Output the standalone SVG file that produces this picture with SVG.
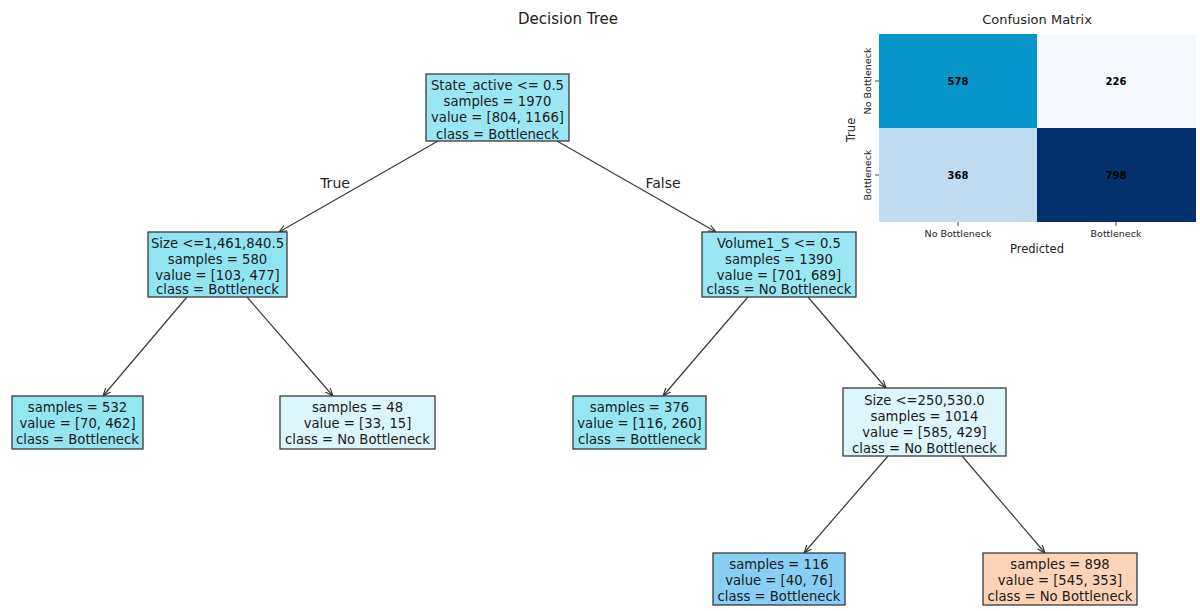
<svg xmlns="http://www.w3.org/2000/svg" width="1200" height="611" viewBox="0 0 1200 611">
<defs>
<marker id="arr" viewBox="0 0 10 10" refX="10" refY="5" markerWidth="8" markerHeight="8" orient="auto-start-reverse" markerUnits="userSpaceOnUse">
<path d="M0,1 L10,5 L0,9" fill="none" stroke="#333" stroke-width="1.4"/>
</marker>
<style>
.box{stroke:#3a3a3a;stroke-width:1.3}
.t{font-family:"DejaVu Sans",sans-serif;font-size:13.2px;fill:#1a1a1a;text-anchor:middle}
.e{stroke:#3a3a3a;stroke-width:1.2;fill:none;marker-end:url(#arr)}
.lab{font-family:"DejaVu Sans",sans-serif;font-size:14px;fill:#222;text-anchor:middle}
.cm{font-family:"DejaVu Sans",sans-serif;font-size:10px;font-weight:bold;text-anchor:middle;fill:#000}
.ax{font-family:"DejaVu Sans",sans-serif;font-size:9.5px;fill:#222;text-anchor:middle}
.axl{font-family:"DejaVu Sans",sans-serif;font-size:11.5px;fill:#222;text-anchor:middle}
.tk{stroke:#444;stroke-width:1}
</style>
</defs>
<rect width="1200" height="611" fill="#fff"/>
<text class="lab" x="568" y="24" style="font-size:15px">Decision Tree</text>

<g id="connectors">
<line class="e" x1="438" y1="141" x2="279" y2="232"/>
<line class="e" x1="557" y1="141" x2="716" y2="232"/>
<line class="e" x1="187" y1="297" x2="103" y2="396"/>
<line class="e" x1="247" y1="297" x2="333" y2="396"/>
<line class="e" x1="748" y1="297" x2="663" y2="396"/>
<line class="e" x1="808" y1="297" x2="886" y2="388"/>
<line class="e" x1="888" y1="456" x2="804" y2="553"/>
<line class="e" x1="962" y1="456" x2="1045" y2="553"/>
<text class="lab" x="335" y="188">True</text>
<text class="lab" x="663" y="188">False</text>
</g>

<g id="root">
<rect class="box" x="426" y="74" width="143" height="67" fill="#9ae7f3"/>
<text class="t" x="497.5" y="90">State_active &lt;= 0.5</text>
<text class="t" x="497.5" y="106.2">samples = 1970</text>
<text class="t" x="497.5" y="122.4">value = [804, 1166]</text>
<text class="t" x="497.5" y="138.6">class = Bottleneck</text>
</g>

<g id="size1">
<rect class="box" x="148" y="232" width="139" height="65" fill="#90e3f1"/>
<text class="t" x="217.5" y="247.5">Size &lt;=1,461,840.5</text>
<text class="t" x="217.5" y="263.7">samples = 580</text>
<text class="t" x="217.5" y="279.9">value = [103, 477]</text>
<text class="t" x="217.5" y="294.1">class = Bottleneck</text>
</g>

<g id="volume">
<rect class="box" x="702" y="232" width="154" height="65" fill="#98e7f3"/>
<text class="t" x="779" y="247.5">Volume1_S &lt;= 0.5</text>
<text class="t" x="779" y="263.7">samples = 1390</text>
<text class="t" x="779" y="279.9">value = [701, 689]</text>
<text class="t" x="779" y="294.1">class = No Bottleneck</text>
</g>

<g id="leaf532">
<rect class="box" x="12" y="396" width="131" height="53" fill="#93e5f2"/>
<text class="t" x="77.5" y="411.5">samples = 532</text>
<text class="t" x="77.5" y="427.7">value = [70, 462]</text>
<text class="t" x="77.5" y="443.9">class = Bottleneck</text>
</g>

<g id="leaf48">
<rect class="box" x="280" y="396" width="155" height="53" fill="#daf6fb"/>
<text class="t" x="357.5" y="411.5">samples = 48</text>
<text class="t" x="357.5" y="427.7">value = [33, 15]</text>
<text class="t" x="357.5" y="443.9">class = No Bottleneck</text>
</g>

<g id="leaf376">
<rect class="box" x="573" y="396" width="133" height="53" fill="#95e6f2"/>
<text class="t" x="639.5" y="411.5">samples = 376</text>
<text class="t" x="639.5" y="427.7">value = [116, 260]</text>
<text class="t" x="639.5" y="443.9">class = Bottleneck</text>
</g>

<g id="size2">
<rect class="box" x="843" y="388" width="163" height="68" fill="#dcf6fb"/>
<text class="t" x="924.5" y="404.5">Size &lt;=250,530.0</text>
<text class="t" x="924.5" y="420.7">samples = 1014</text>
<text class="t" x="924.5" y="436.9">value = [585, 429]</text>
<text class="t" x="924.5" y="453.1">class = No Bottleneck</text>
</g>

<g id="leaf116">
<rect class="box" x="713" y="553" width="132" height="52" fill="#88cef5"/>
<text class="t" x="779" y="568.5">samples = 116</text>
<text class="t" x="779" y="584.7">value = [40, 76]</text>
<text class="t" x="779" y="600.9">class = Bottleneck</text>
</g>

<g id="leaf898">
<rect class="box" x="983" y="553" width="154" height="52" fill="#fdd3b8"/>
<text class="t" x="1060" y="568.5">samples = 898</text>
<text class="t" x="1060" y="584.7">value = [545, 353]</text>
<text class="t" x="1060" y="600.9">class = No Bottleneck</text>
</g>

<g id="confusion-matrix">
<text class="axl" x="1037" y="24" style="font-size:13px">Confusion Matrix</text>
<rect x="879" y="34" width="158" height="94" fill="#0795cb"/>
<rect x="1037" y="34" width="159" height="94" fill="#f5f9fe"/>
<rect x="879" y="128" width="158" height="94" fill="#c0dcf0"/>
<rect x="1037" y="128" width="159" height="94" fill="#04306b"/>
<text class="cm" x="958" y="85">578</text>
<text class="cm" x="1116" y="85">226</text>
<text class="cm" x="958" y="179">368</text>
<text class="cm" x="1116" y="179" fill="#111">798</text>
<line class="tk" x1="875" y1="81" x2="879" y2="81"/>
<line class="tk" x1="875" y1="175" x2="879" y2="175"/>
<line class="tk" x1="958" y1="222" x2="958" y2="226"/>
<line class="tk" x1="1116" y1="222" x2="1116" y2="226"/>
<text class="ax" transform="translate(871,81) rotate(-90)">No Bottleneck</text>
<text class="ax" transform="translate(871,175) rotate(-90)">Bottleneck</text>
<text class="axl" transform="translate(855,130) rotate(-90)">True</text>
<text class="ax" x="958" y="237">No Bottleneck</text>
<text class="ax" x="1116" y="237">Bottleneck</text>
<text class="axl" x="1037" y="253">Predicted</text>
</g>
</svg>
